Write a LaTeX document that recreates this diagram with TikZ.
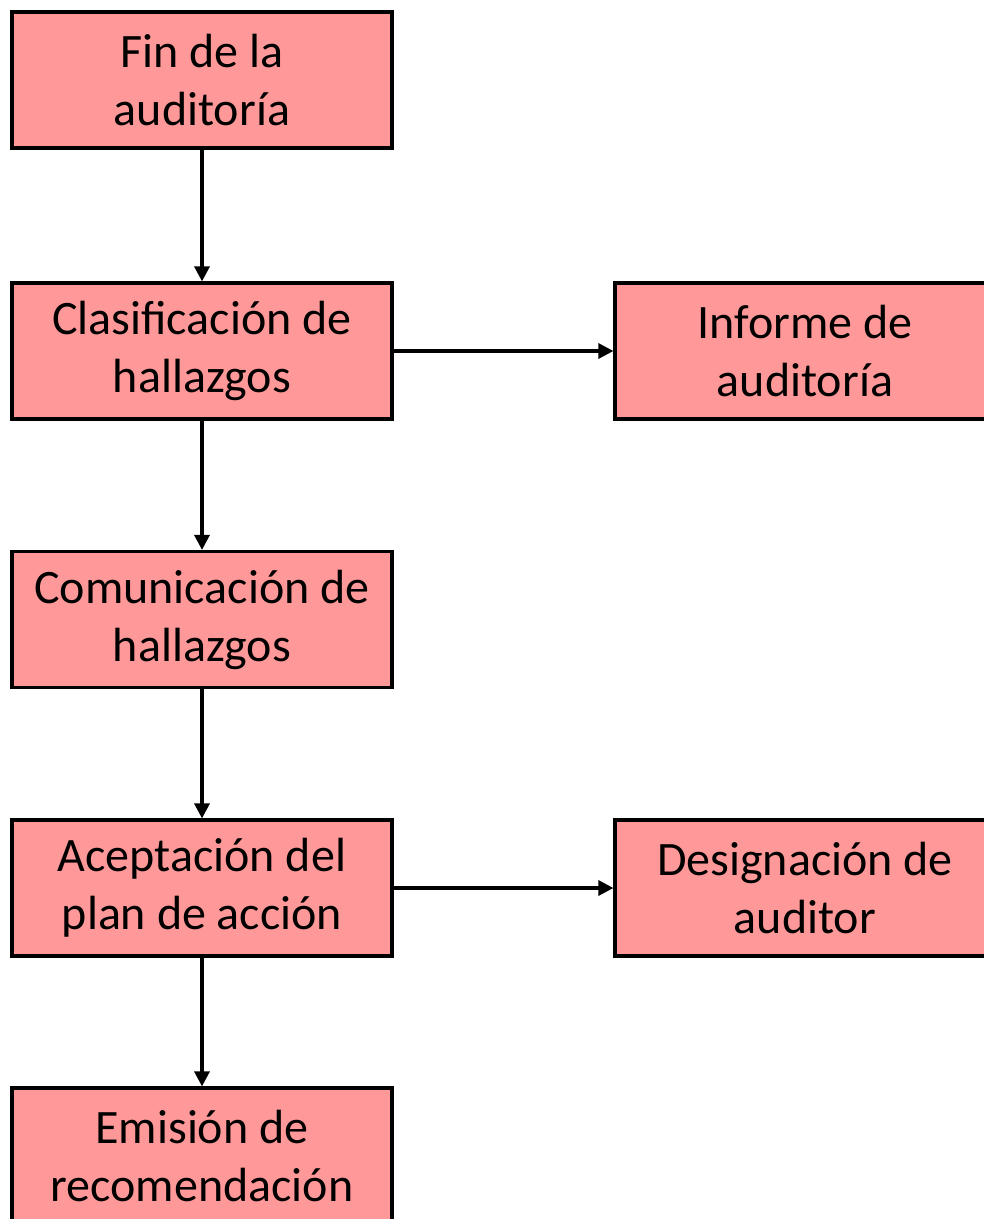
\documentclass[tikz,border=0pt]{standalone}
\usepackage{fontspec}
\setmainfont{Carlito}
\usetikzlibrary{arrows.meta}
\definecolor{boxfill}{RGB}{255,153,153}
\tikzset{
  stepbox/.style={draw=black, line width=3.2pt, fill=boxfill, minimum width=380pt, minimum height=136pt, inner sep=0pt, align=center, font=\fontsize{48}{58}\selectfont},
  conn/.style={line width=3.2pt, -{Triangle[length=15pt,width=15pt]}}
}
\begin{document}
\begin{tikzpicture}[x=1pt,y=-1pt]
\useasboundingbox (0,0) rectangle (984,1219);
\clip (0,0) rectangle (984,1219);
\node[stepbox] (fin) at (202,80) {Fin de la\\auditoría};
\node[stepbox] (clas) at (202,351) {Clasificación de\\hallazgos};
\node[stepbox] (com) at (202,619.5) {Comunicación de\\hallazgos};
\node[stepbox] (acep) at (202,888) {Aceptación del\\plan de acción};
\node[stepbox] (emi) at (202,1156) {Emisión de\\recomendación};
\node[stepbox] (inf) at (805,351) {Informe de\\auditoría};
\node[stepbox] (des) at (805,888) {Designación de\\auditor};
\draw[conn] (fin) -- (clas);
\draw[conn] (clas) -- (com);
\draw[conn] (com) -- (acep);
\draw[conn] (acep) -- (emi);
\draw[conn] (clas) -- (inf);
\draw[conn] (acep) -- (des);
\end{tikzpicture}
\end{document}
